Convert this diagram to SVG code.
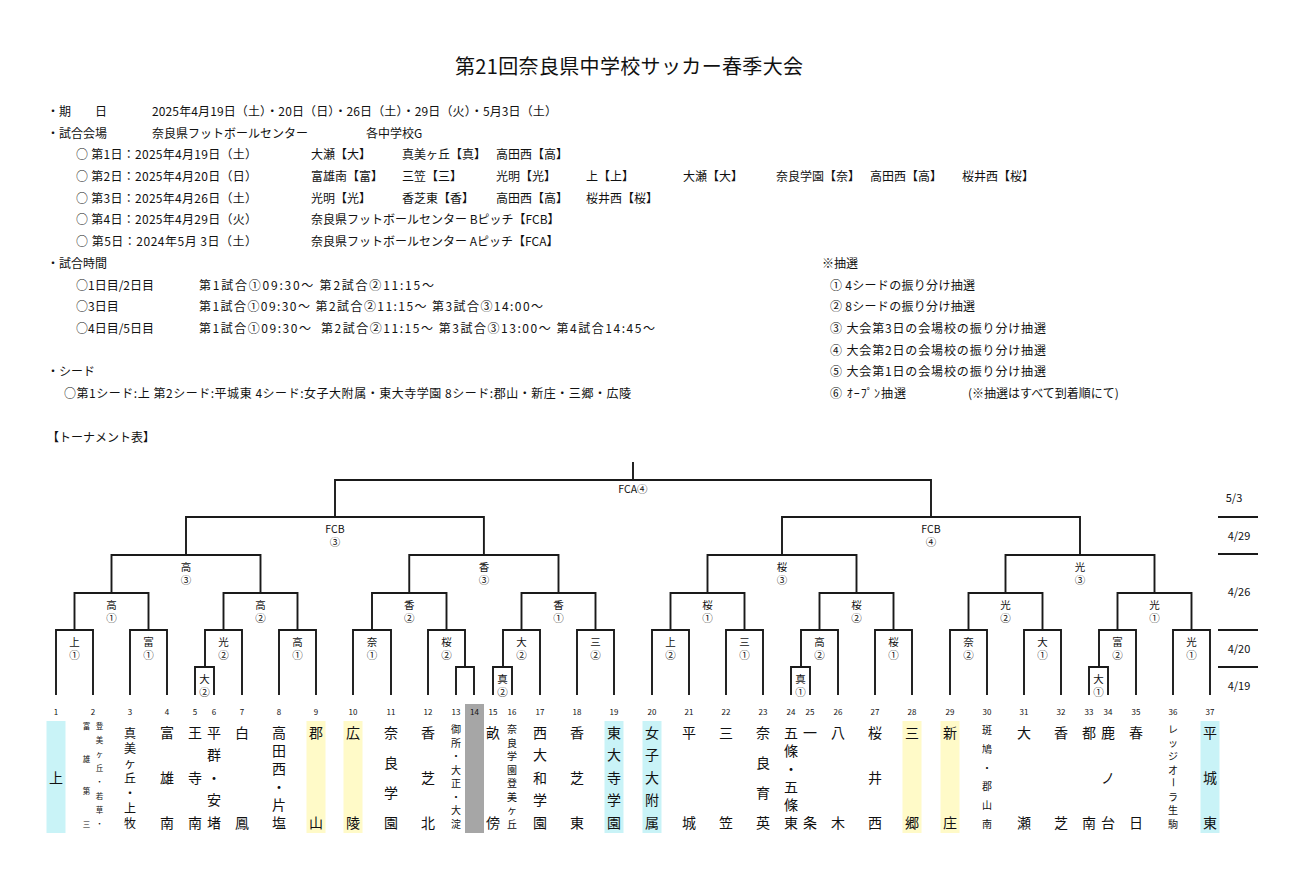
<svg xmlns="http://www.w3.org/2000/svg" width="1297" height="877" viewBox="0 0 1297 877">
<style>
text{font-family:"Noto Sans CJK JP","Noto Sans",sans-serif;fill:#111}
.h{font-size:12px;dominant-baseline:central}
.ttl{font-size:20px;text-anchor:middle;dominant-baseline:central}
.lb{font-size:10.5px;text-anchor:middle;dominant-baseline:central}
.no{font-size:8px;text-anchor:middle;dominant-baseline:central}
.nm{font-size:14px;text-anchor:middle;dominant-baseline:central}
.n12{font-size:12px}
.sm{font-size:10px}
.xs{font-size:7.5px}
.dt{font-size:11px;text-anchor:middle;dominant-baseline:central}
.ln{fill:none;stroke:#1a1a1a;stroke-width:1.9}
.cy{fill:#c9f3f7}
.ye{fill:#fffac8}
.gr{fill:#a6a6a6}
</style>
<rect width="1297" height="877" fill="#fff"/>
<g id="header">
<text class="ttl" x="629" y="65" textLength="348" lengthAdjust="spacing">第21回奈良県中学校サッカー春季大会</text>
<text class="h" x="47" y="110" xml:space="preserve">・期　　日</text>
<text class="h" x="152" y="110" textLength="405" lengthAdjust="spacing">2025年4月19日（土）・20日（日）・26日（土）・29日（火）・5月3日（土）</text>
<text class="h" x="47" y="132">・試合会場</text>
<text class="h" x="152" y="132">奈良県フットボールセンター</text>
<text class="h" x="366" y="132">各中学校G</text>
<text class="h" x="76" y="153.5" xml:space="preserve" textLength="181" lengthAdjust="spacing">○ 第1日：2025年4月19日（土）</text>
<text class="h" x="311" y="153.5">大瀬【大】</text>
<text class="h" x="402" y="153.5">真美ヶ丘【真】</text>
<text class="h" x="496" y="153.5">高田西【高】</text>
<text class="h" x="76" y="175" xml:space="preserve" textLength="181" lengthAdjust="spacing">○ 第2日：2025年4月20日（日）</text>
<text class="h" x="311" y="175">富雄南【富】</text>
<text class="h" x="402" y="175">三笠【三】</text>
<text class="h" x="496" y="175">光明【光】</text>
<text class="h" x="586" y="175">上【上】</text>
<text class="h" x="683" y="175">大瀬【大】</text>
<text class="h" x="776" y="175">奈良学園【奈】</text>
<text class="h" x="870" y="175">高田西【高】</text>
<text class="h" x="962" y="175">桜井西【桜】</text>
<text class="h" x="76" y="197" xml:space="preserve" textLength="181" lengthAdjust="spacing">○ 第3日：2025年4月26日（土）</text>
<text class="h" x="311" y="197">光明【光】</text>
<text class="h" x="402" y="197">香芝東【香】</text>
<text class="h" x="496" y="197">高田西【高】</text>
<text class="h" x="586" y="197">桜井西【桜】</text>
<text class="h" x="76" y="218.5" xml:space="preserve" textLength="181" lengthAdjust="spacing">○ 第4日：2025年4月29日（火）</text>
<text class="h" x="311" y="218.5" xml:space="preserve">奈良県フットボールセンター Bピッチ【FCB】</text>
<text class="h" x="76" y="240" xml:space="preserve" textLength="181" lengthAdjust="spacing">○ 第5日：2024年5月 3日（土）</text>
<text class="h" x="311" y="240" xml:space="preserve">奈良県フットボールセンター Aピッチ【FCA】</text>
<text class="h" x="47" y="262">・試合時間</text>
<text class="h" x="76" y="284">○1日目/2日目</text>
<text class="h" x="199" y="284" xml:space="preserve" textLength="235" lengthAdjust="spacing">第1試合①09:30～ 第2試合②11:15～</text>
<text class="h" x="76" y="305.5">○3日目</text>
<text class="h" x="199" y="305.5" xml:space="preserve" textLength="344" lengthAdjust="spacing">第1試合①09:30～ 第2試合②11:15～ 第3試合③14:00～</text>
<text class="h" x="76" y="327">○4日目/5日目</text>
<text class="h" x="199" y="327" xml:space="preserve" textLength="456" lengthAdjust="spacing">第1試合①09:30～  第2試合②11:15～ 第3試合③13:00～ 第4試合14:45～</text>
<text class="h" x="47" y="370.5">・シード</text>
<text class="h" x="64" y="392" xml:space="preserve" textLength="567" lengthAdjust="spacing">○第1シード:上 第2シード:平城東 4シード:女子大附属・東大寺学園 8シード:郡山・新庄・三郷・広陵</text>
<text class="h" x="47" y="436">【トーナメント表】</text>
</g>
<g id="lottery">
<text class="h" x="822" y="262">※抽選</text>
<text class="h" x="830" y="284" xml:space="preserve" textLength="145" lengthAdjust="spacing">① 4シードの振り分け抽選</text>
<text class="h" x="830" y="305.5" xml:space="preserve" textLength="145" lengthAdjust="spacing">② 8シードの振り分け抽選</text>
<text class="h" x="830" y="327" xml:space="preserve" textLength="216" lengthAdjust="spacing">③ 大会第3日の会場校の振り分け抽選</text>
<text class="h" x="830" y="349" xml:space="preserve" textLength="216" lengthAdjust="spacing">④ 大会第2日の会場校の振り分け抽選</text>
<text class="h" x="830" y="370.5" xml:space="preserve" textLength="216" lengthAdjust="spacing">⑤ 大会第1日の会場校の振り分け抽選</text>
<text class="h" x="830" y="392" xml:space="preserve" textLength="76" lengthAdjust="spacing">⑥ ｵｰﾌﾟﾝ抽選</text>
<text class="h" x="968" y="392">(※抽選はすべて到着順にて)</text>
</g>
<g id="dates">
<path class="ln" d="M1218 517H1258M1218 554H1258M1218 630H1258M1218 667H1258" stroke-width="1.5"/>
<text class="dt" x="1234" y="497">5/3</text>
<text class="dt" x="1239" y="535">4/29</text>
<text class="dt" x="1239" y="591">4/26</text>
<text class="dt" x="1239" y="648">4/20</text>
<text class="dt" x="1239" y="685">4/19</text>
</g>
<g id="highlights">
<rect class="cy" x="46.5" y="721" width="19" height="112"/>
<rect class="ye" x="306.5" y="721" width="19" height="112"/>
<rect class="ye" x="343.5" y="721" width="19" height="112"/>
<rect class="gr" x="465" y="704" width="19" height="129"/>
<rect class="cy" x="604.5" y="721" width="19" height="112"/>
<rect class="cy" x="642.5" y="721" width="19" height="112"/>
<rect class="ye" x="902.5" y="721" width="19" height="112"/>
<rect class="ye" x="940.5" y="721" width="19" height="112"/>
<rect class="cy" x="1200.5" y="721" width="19" height="112"/>
</g>
<g id="connectors">
<path class="ln" d="M195 695V667H214V695M456 695V667H474V695M493 695V667H512V695M791 695V667H810V695M1089 695V667H1108V695"/>
<path class="ln" d="M56 695V630H93V695M130 695V630H167V695M205 667V630H242V695M279 695V630H316V695M353 695V630H391V695M428 695V630H465V667M503 667V630H540V695M577 695V630H614V695M652 695V630H689V695M726 695V630H763V695M801 667V630H838V695M875 695V630H912V695M950 695V630H987V695M1024 695V630H1061V695M1099 667V630H1136V695M1173 695V630H1210V695"/>
<path class="ln" d="M74.5 630V593H148.5V630M223.5 630V593H297.5V630M372 630V593H446.5V630M521.5 630V593H595.5V630M670.5 630V593H744.5V630M819.5 630V593H893.5V630M968.5 630V593H1042.5V630M1117.5 630V593H1191.5V630"/>
<path class="ln" d="M111.5 593V555H260.5V593M409.25 593V555H558.5V593M707.5 593V555H856.5V593M1005.5 593V555H1154.5V593"/>
<path class="ln" d="M186 555V517H483.9V555M782 555V517H1080V555"/>
<path class="ln" d="M335 517V480H931V517M633 480V462"/>
</g>
<g id="match-labels">
<text class="lb" x="633" y="488">FCA④</text>
<g id="m-fcb3"><text class="lb" x="335" y="528">FCB</text><text class="lb" x="335" y="541.5">③</text></g>
<g id="m-fcb4"><text class="lb" x="931" y="528">FCB</text><text class="lb" x="931" y="541.5">④</text></g>
<g id="m-r3"><text class="lb" x="186" y="566">高</text><text class="lb" x="186" y="579">③</text><text class="lb" x="484" y="566">香</text><text class="lb" x="484" y="579">③</text><text class="lb" x="782" y="566">桜</text><text class="lb" x="782" y="579">③</text><text class="lb" x="1080" y="566">光</text><text class="lb" x="1080" y="579">③</text></g>
<g id="m-r2"><text class="lb" x="111.5" y="604">高</text><text class="lb" x="111.5" y="617">①</text><text class="lb" x="260.5" y="604">高</text><text class="lb" x="260.5" y="617">②</text><text class="lb" x="409.25" y="604">香</text><text class="lb" x="409.25" y="617">②</text><text class="lb" x="558.5" y="604">香</text><text class="lb" x="558.5" y="617">①</text><text class="lb" x="707.5" y="604">桜</text><text class="lb" x="707.5" y="617">①</text><text class="lb" x="856.5" y="604">桜</text><text class="lb" x="856.5" y="617">②</text><text class="lb" x="1005.5" y="604">光</text><text class="lb" x="1005.5" y="617">②</text><text class="lb" x="1154.5" y="604">光</text><text class="lb" x="1154.5" y="617">①</text></g>
<g id="m-r1"><text class="lb" x="74.5" y="641">上</text><text class="lb" x="74.5" y="654">①</text><text class="lb" x="148.5" y="641">富</text><text class="lb" x="148.5" y="654">①</text><text class="lb" x="223.5" y="641">光</text><text class="lb" x="223.5" y="654">②</text><text class="lb" x="297.5" y="641">高</text><text class="lb" x="297.5" y="654">①</text><text class="lb" x="372" y="641">奈</text><text class="lb" x="372" y="654">①</text><text class="lb" x="446.5" y="641">桜</text><text class="lb" x="446.5" y="654">②</text><text class="lb" x="521.5" y="641">大</text><text class="lb" x="521.5" y="654">②</text><text class="lb" x="595.5" y="641">三</text><text class="lb" x="595.5" y="654">②</text><text class="lb" x="670.5" y="641">上</text><text class="lb" x="670.5" y="654">②</text><text class="lb" x="744.5" y="641">三</text><text class="lb" x="744.5" y="654">①</text><text class="lb" x="819.5" y="641">高</text><text class="lb" x="819.5" y="654">②</text><text class="lb" x="893.5" y="641">桜</text><text class="lb" x="893.5" y="654">①</text><text class="lb" x="968.5" y="641">奈</text><text class="lb" x="968.5" y="654">②</text><text class="lb" x="1042.5" y="641">大</text><text class="lb" x="1042.5" y="654">①</text><text class="lb" x="1117.5" y="641">富</text><text class="lb" x="1117.5" y="654">②</text><text class="lb" x="1191.5" y="641">光</text><text class="lb" x="1191.5" y="654">①</text></g>
<g id="m-sub"><text class="lb" x="204.5" y="678">大</text><text class="lb" x="204.5" y="691">②</text><text class="lb" x="502.5" y="678">真</text><text class="lb" x="502.5" y="691">②</text><text class="lb" x="800.5" y="678">真</text><text class="lb" x="800.5" y="691">①</text><text class="lb" x="1098.5" y="678">大</text><text class="lb" x="1098.5" y="691">①</text></g>
</g>
<g id="numbers">
<text class="no" x="56" y="711">1</text><text class="no" x="93" y="711">2</text><text class="no" x="130" y="711">3</text><text class="no" x="167" y="711">4</text><text class="no" x="195" y="711">5</text><text class="no" x="214" y="711">6</text><text class="no" x="242" y="711">7</text><text class="no" x="279" y="711">8</text><text class="no" x="316" y="711">9</text><text class="no" x="353" y="711">10</text><text class="no" x="391" y="711">11</text><text class="no" x="428" y="711">12</text><text class="no" x="456" y="711">13</text><text class="no" x="474.5" y="711">14</text><text class="no" x="493" y="711">15</text><text class="no" x="512" y="711">16</text><text class="no" x="540" y="711">17</text><text class="no" x="577" y="711">18</text><text class="no" x="614" y="711">19</text><text class="no" x="652" y="711">20</text><text class="no" x="689" y="711">21</text><text class="no" x="726" y="711">22</text><text class="no" x="763" y="711">23</text><text class="no" x="791" y="711">24</text><text class="no" x="810" y="711">25</text><text class="no" x="838" y="711">26</text><text class="no" x="875" y="711">27</text><text class="no" x="912" y="711">28</text><text class="no" x="950" y="711">29</text><text class="no" x="987" y="711">30</text><text class="no" x="1024" y="711">31</text><text class="no" x="1061" y="711">32</text><text class="no" x="1089" y="711">33</text><text class="no" x="1108" y="711">34</text><text class="no" x="1136" y="711">35</text><text class="no" x="1173" y="711">36</text><text class="no" x="1210" y="711">37</text>
</g>
<g id="teams">
<g id="t1"><text class="nm" x="56" y="777">上</text></g>
<g id="t2"><text class="nm xs"><tspan x="99.5" y="725">登</tspan><tspan x="99.5" y="739">美</tspan><tspan x="99.5" y="753">ヶ</tspan><tspan x="99.5" y="767">丘</tspan><tspan x="99.5" y="781">・</tspan><tspan x="99.5" y="795">若</tspan><tspan x="99.5" y="809">草</tspan><tspan x="99.5" y="823">・</tspan><tspan x="86.5" y="725">富</tspan><tspan x="86.5" y="757.7">雄</tspan><tspan x="86.5" y="790.3">第</tspan><tspan x="86.5" y="823">三</tspan></text></g>
<g id="t3"><text class="nm n12"><tspan x="130" y="731.5">真</tspan><tspan x="130" y="746.6">美</tspan><tspan x="130" y="761.7">ヶ</tspan><tspan x="130" y="776.8">丘</tspan><tspan x="130" y="791.8">・</tspan><tspan x="130" y="806.9">上</tspan><tspan x="130" y="822">牧</tspan></text></g>
<g id="t4"><text class="nm"><tspan x="167" y="731.5">富</tspan><tspan x="167" y="776.8">雄</tspan><tspan x="167" y="822">南</tspan></text></g>
<g id="t5"><text class="nm"><tspan x="195" y="731.5">王</tspan><tspan x="195" y="776.8">寺</tspan><tspan x="195" y="822">南</tspan></text></g>
<g id="t6"><text class="nm"><tspan x="214" y="731.5">平</tspan><tspan x="214" y="754.1">群</tspan><tspan x="214" y="776.8">・</tspan><tspan x="214" y="799.4">安</tspan><tspan x="214" y="822">堵</tspan></text></g>
<g id="t7"><text class="nm"><tspan x="242" y="731.5">白</tspan><tspan x="242" y="822">鳳</tspan></text></g>
<g id="t8"><text class="nm"><tspan x="279" y="731.5">高</tspan><tspan x="279" y="749.6">田</tspan><tspan x="279" y="767.7">西</tspan><tspan x="279" y="785.8">・</tspan><tspan x="279" y="803.9">片</tspan><tspan x="279" y="822">塩</tspan></text></g>
<g id="t9"><text class="nm"><tspan x="316" y="731.5">郡</tspan><tspan x="316" y="822">山</tspan></text></g>
<g id="t10"><text class="nm"><tspan x="353" y="731.5">広</tspan><tspan x="353" y="822">陵</tspan></text></g>
<g id="t11"><text class="nm"><tspan x="391" y="731.5">奈</tspan><tspan x="391" y="761.7">良</tspan><tspan x="391" y="791.8">学</tspan><tspan x="391" y="822">園</tspan></text></g>
<g id="t12"><text class="nm"><tspan x="428" y="731.5">香</tspan><tspan x="428" y="776.8">芝</tspan><tspan x="428" y="822">北</tspan></text></g>
<g id="t13"><text class="nm sm"><tspan x="456" y="728">御</tspan><tspan x="456" y="741.6">所</tspan><tspan x="456" y="755.1">・</tspan><tspan x="456" y="768.7">大</tspan><tspan x="456" y="782.3">正</tspan><tspan x="456" y="795.9">・</tspan><tspan x="456" y="809.4">大</tspan><tspan x="456" y="823">淀</tspan></text></g>
<g id="t15"><text class="nm"><tspan x="493" y="731.5">畝</tspan><tspan x="493" y="822">傍</tspan></text></g>
<g id="t16"><text class="nm sm"><tspan x="512" y="728">奈</tspan><tspan x="512" y="741.6">良</tspan><tspan x="512" y="755.1">学</tspan><tspan x="512" y="768.7">園</tspan><tspan x="512" y="782.3">登</tspan><tspan x="512" y="795.9">美</tspan><tspan x="512" y="809.4">ヶ</tspan><tspan x="512" y="823">丘</tspan></text></g>
<g id="t17"><text class="nm"><tspan x="540" y="731.5">西</tspan><tspan x="540" y="754.1">大</tspan><tspan x="540" y="776.8">和</tspan><tspan x="540" y="799.4">学</tspan><tspan x="540" y="822">園</tspan></text></g>
<g id="t18"><text class="nm"><tspan x="577" y="731.5">香</tspan><tspan x="577" y="776.8">芝</tspan><tspan x="577" y="822">東</tspan></text></g>
<g id="t19"><text class="nm"><tspan x="614" y="731.5">東</tspan><tspan x="614" y="754.1">大</tspan><tspan x="614" y="776.8">寺</tspan><tspan x="614" y="799.4">学</tspan><tspan x="614" y="822">園</tspan></text></g>
<g id="t20"><text class="nm"><tspan x="652" y="731.5">女</tspan><tspan x="652" y="754.1">子</tspan><tspan x="652" y="776.8">大</tspan><tspan x="652" y="799.4">附</tspan><tspan x="652" y="822">属</tspan></text></g>
<g id="t21"><text class="nm"><tspan x="689" y="731.5">平</tspan><tspan x="689" y="822">城</tspan></text></g>
<g id="t22"><text class="nm"><tspan x="726" y="731.5">三</tspan><tspan x="726" y="822">笠</tspan></text></g>
<g id="t23"><text class="nm"><tspan x="763" y="731.5">奈</tspan><tspan x="763" y="761.7">良</tspan><tspan x="763" y="791.8">育</tspan><tspan x="763" y="822">英</tspan></text></g>
<g id="t24"><text class="nm"><tspan x="791" y="731.5">五</tspan><tspan x="791" y="749.6">條</tspan><tspan x="791" y="767.7">・</tspan><tspan x="791" y="785.8">五</tspan><tspan x="791" y="803.9">條</tspan><tspan x="791" y="822">東</tspan></text></g>
<g id="t25"><text class="nm"><tspan x="810" y="731.5">一</tspan><tspan x="810" y="822">条</tspan></text></g>
<g id="t26"><text class="nm"><tspan x="838" y="731.5">八</tspan><tspan x="838" y="822">木</tspan></text></g>
<g id="t27"><text class="nm"><tspan x="875" y="731.5">桜</tspan><tspan x="875" y="776.8">井</tspan><tspan x="875" y="822">西</tspan></text></g>
<g id="t28"><text class="nm"><tspan x="912" y="731.5">三</tspan><tspan x="912" y="822">郷</tspan></text></g>
<g id="t29"><text class="nm"><tspan x="950" y="731.5">新</tspan><tspan x="950" y="822">庄</tspan></text></g>
<g id="t30"><text class="nm sm"><tspan x="987" y="729">斑</tspan><tspan x="987" y="747.8">鳩</tspan><tspan x="987" y="766.6">・</tspan><tspan x="987" y="785.4">郡</tspan><tspan x="987" y="804.2">山</tspan><tspan x="987" y="823">南</tspan></text></g>
<g id="t31"><text class="nm"><tspan x="1024" y="731.5">大</tspan><tspan x="1024" y="822">瀬</tspan></text></g>
<g id="t32"><text class="nm"><tspan x="1061" y="731.5">香</tspan><tspan x="1061" y="822">芝</tspan></text></g>
<g id="t33"><text class="nm"><tspan x="1089" y="731.5">都</tspan><tspan x="1089" y="822">南</tspan></text></g>
<g id="t34"><text class="nm"><tspan x="1108" y="731.5">鹿</tspan><tspan x="1108" y="776.8">ノ</tspan><tspan x="1108" y="822">台</tspan></text></g>
<g id="t35"><text class="nm"><tspan x="1136" y="731.5">春</tspan><tspan x="1136" y="822">日</tspan></text></g>
<g id="t36"><text class="nm sm"><tspan x="1173" y="728">レ</tspan><tspan x="1173" y="741.6">ッ</tspan><tspan x="1173" y="755.1">ジ</tspan><tspan x="1173" y="768.7">オ</tspan></text><text class="nm sm" transform="rotate(90 1173 782.3)" x="1173" y="782.3">ー</text><text class="nm sm"><tspan x="1173" y="795.9">ラ</tspan><tspan x="1173" y="809.4">生</tspan><tspan x="1173" y="823">駒</tspan></text></g>
<g id="t37"><text class="nm"><tspan x="1210" y="731.5">平</tspan><tspan x="1210" y="776.8">城</tspan><tspan x="1210" y="822">東</tspan></text></g>
</g>
</svg>
